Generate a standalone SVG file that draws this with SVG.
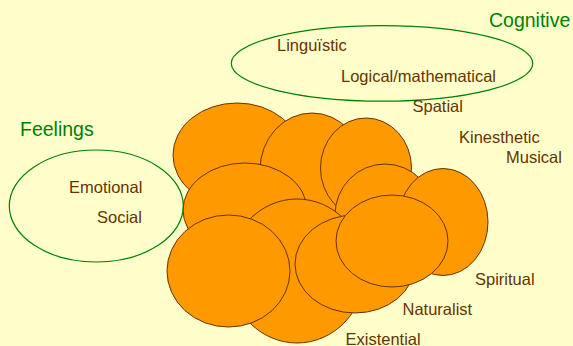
<svg xmlns="http://www.w3.org/2000/svg" width="573" height="346" viewBox="0 0 573 346">
<style>
.bg{fill:#FFFFCC}
.blob{fill:#FF9900;stroke:#663300;stroke-width:1}
.grp{fill:none;stroke:#008000;stroke-width:1.2}
.lbl{font-family:"Liberation Sans",Arial,sans-serif;font-size:16.5px;fill:#663300}
.head{font-family:"Liberation Sans",Arial,sans-serif;font-size:19.5px;fill:#008000}
</style>
<rect class="bg" x="0" y="0" width="573" height="346"/>
<g id="blobs">
<ellipse id="e1" class="blob" cx="237" cy="155" rx="64" ry="52"/>
<ellipse id="e2" class="blob" cx="312" cy="170" rx="52" ry="57"/>
<ellipse id="e3" class="blob" cx="366" cy="168" rx="45.5" ry="50"/>
<ellipse id="e4" class="blob" cx="245" cy="210" rx="62" ry="47"/>
<ellipse id="e5" class="blob" cx="385" cy="215" rx="50" ry="51"/>
<ellipse id="e6" class="blob" cx="443" cy="222" rx="45" ry="53.5"/>
<ellipse id="e7" class="blob" cx="297" cy="271" rx="68" ry="72"/>
<ellipse id="e8" class="blob" cx="228.5" cy="271" rx="61.5" ry="56"/>
<ellipse id="e9" class="blob" cx="355" cy="264" rx="60" ry="49"/>
<ellipse id="e10" class="blob" cx="392" cy="241" rx="56" ry="46"/>
</g>
<g id="feelings">
<ellipse class="grp" cx="96.3" cy="206" rx="87" ry="56"/>
<text class="head" x="20" y="136">Feelings</text>
<text class="lbl" x="69" y="193">Emotional</text>
<text class="lbl" x="97" y="223">Social</text>
</g>
<g id="cognitive">
<ellipse class="grp" cx="382" cy="63.4" rx="150.7" ry="37.8"/>
<text class="head" x="489" y="27">Cognitive</text>
<text class="lbl" x="277" y="50.5">Linguïstic</text>
<text class="lbl" x="341" y="81.5">Logical/mathematical</text>
</g>
<g id="others">
<text class="lbl" x="412.5" y="111.5">Spatial</text>
<text class="lbl" x="459" y="143">Kinesthetic</text>
<text class="lbl" x="506" y="162.5">Musical</text>
<text class="lbl" x="475" y="285">Spiritual</text>
<text class="lbl" x="402.5" y="315">Naturalist</text>
<text class="lbl" x="345.5" y="345">Existential</text>
</g>
</svg>
